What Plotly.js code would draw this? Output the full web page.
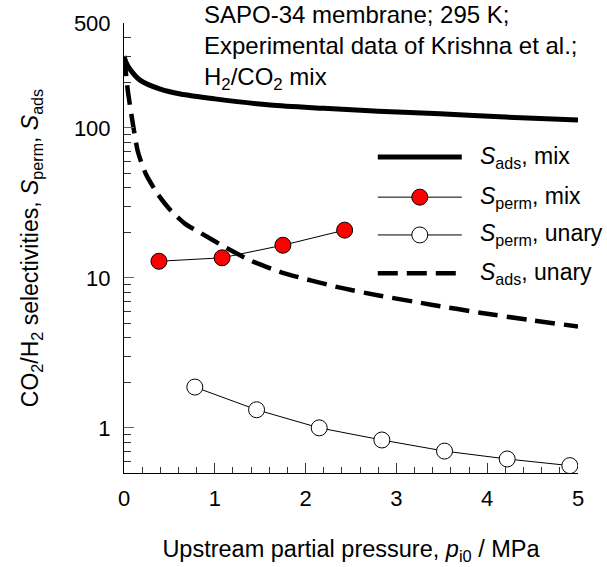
<!DOCTYPE html>
<html>
<head>
<meta charset="utf-8">
<script src="https://cdn.plot.ly/plotly-3.0.1.min.js"></script>
<style>
html,body{margin:0;padding:0;background:#fff;}
#chart{width:607px;height:567px;}
</style>
</head>
<body>
<div id="chart"></div>
<script>
// ---- data ----
const sAdsMixX   = [0, 0.02, 0.066, 0.176, 0.4, 0.62, 1.0, 1.61, 2.2, 2.8, 3.48, 4.2, 5.0];
const sAdsMixY   = [300, 275, 246, 208, 181, 168, 156, 142, 135, 129, 124, 118, 113];

const sAdsUnaryX = [0, 0.02, 0.044, 0.099, 0.154, 0.242, 0.374, 0.518, 0.67, 0.84, 1.13, 1.4, 1.75, 2.38, 2.82, 3.4, 3.92, 4.5, 5.0];
const sAdsUnaryY = [300, 235, 173, 105, 69, 49, 36, 28, 23, 20, 15.8, 13, 10.8, 8.6, 7.6, 6.6, 5.86, 5.2, 4.74];

const sPermMixX  = [0.385, 1.08, 1.75, 2.43];
const sPermMixY  = [12.9, 13.6, 16.5, 20.8];

const sPermUnaryX = [0.78, 1.46, 2.15, 2.84, 3.53, 4.22, 4.91];
const sPermUnaryY = [1.87, 1.32, 1.0, 0.83, 0.70, 0.62, 0.56];

const yTickVals  = [1, 10, 100, 500];
const yTickText  = ['1', '10', '100', '500'];
const yMinorVals = [0.6, 0.7, 0.8, 0.9, 2, 3, 4, 5, 6, 7, 8, 9, 20, 30, 40, 50, 60, 70, 80, 90, 200, 300, 400];

const legendNames = [
  '<i>S</i><sub>ads</sub>, mix',
  '<i>S</i><sub>perm</sub>, mix',
  '<i>S</i><sub>perm</sub>, unary',
  '<i>S</i><sub>ads</sub>, unary'
];

const FONT = 'Liberation Sans, Arial, Helvetica, sans-serif';
const TXT = 23;   // titles, legend
const NOTE = 24;  // note at top
const TICK = 22;  // tick labels
const DASH = '20px,9px';

const traces = [
  {x: sAdsMixX, y: sAdsMixY, mode: 'lines', line: {color: '#000', width: 5, shape: 'spline', smoothing: 0.8}, showlegend: false},
  {x: sAdsUnaryX, y: sAdsUnaryY, mode: 'lines', line: {color: '#000', width: 4.5, dash: DASH, shape: 'spline', smoothing: 0.6}, showlegend: false},
  {x: sPermMixX, y: sPermMixY, mode: 'lines+markers', line: {color: '#000', width: 1},
   marker: {size: 16, color: '#ff0000', line: {color: '#000', width: 1}}, showlegend: false},
  {x: sPermUnaryX, y: sPermUnaryY, mode: 'lines+markers', line: {color: '#000', width: 1},
   marker: {size: 16, color: '#ffffff', line: {color: '#000', width: 1}}, showlegend: false}
];

// custom legend (paper coordinates)
const legX0 = 0.559, legX1 = 0.744, legTextX = 0.780;
const legY = [0.702, 0.613, 0.529, 0.444];
const mW = 16/454, mH = 16/450, mC = (legX0 + legX1) / 2;
const shapes = [
  {type: 'line', xref: 'paper', yref: 'paper', x0: legX0, x1: legX1, y0: legY[0], y1: legY[0], line: {color: '#000', width: 5}},
  {type: 'line', xref: 'paper', yref: 'paper', x0: legX0, x1: legX1, y0: legY[1], y1: legY[1], line: {color: '#000', width: 1}},
  {type: 'circle', xref: 'paper', yref: 'paper', x0: mC - mW/2, x1: mC + mW/2, y0: legY[1] - mH/2, y1: legY[1] + mH/2, fillcolor: '#ff0000', line: {color: '#000', width: 1}},
  {type: 'line', xref: 'paper', yref: 'paper', x0: legX0, x1: legX1, y0: legY[2], y1: legY[2], line: {color: '#000', width: 1}},
  {type: 'circle', xref: 'paper', yref: 'paper', x0: mC - mW/2, x1: mC + mW/2, y0: legY[2] - mH/2, y1: legY[2] + mH/2, fillcolor: '#ffffff', line: {color: '#000', width: 1}},
  {type: 'line', xref: 'paper', yref: 'paper', x0: legX0, x1: legX1, y0: legY[3], y1: legY[3], line: {color: '#000', width: 4.5, dash: DASH}}
];

const annotations = legendNames.map((t, i) => ({
  xref: 'paper', yref: 'paper', x: legTextX, y: legY[i], xanchor: 'left', yanchor: 'middle',
  text: t, showarrow: false, font: {family: FONT, size: TXT, color: '#000'}
}));
annotations.push({
  xref: 'paper', yref: 'paper', x: 0.172, y: 1.054, xanchor: 'left', yanchor: 'top', align: 'left',
  text: 'SAPO-34 membrane; 295 K;<br>Experimental data of Krishna et al.;<br>H<sub>2</sub>/CO<sub>2</sub> mix',
  showarrow: false, font: {family: FONT, size: NOTE, color: '#000'}
});

const layout = {
  width: 607, height: 567,
  margin: {l: 124, r: 29, t: 23, b: 94},
  paper_bgcolor: '#fff', plot_bgcolor: '#fff',
  font: {family: FONT, size: TXT, color: '#000'},
  showlegend: false,
  xaxis: {
    range: [0, 5], tickmode: 'linear', tick0: 0, dtick: 1,
    ticks: 'inside', ticklen: 10, tickwidth: 1, tickcolor: '#333',
    minor: {dtick: 0.2, tick0: 0, ticks: 'inside', ticklen: 6, tickwidth: 1, tickcolor: '#333'},
    showline: true, linecolor: '#000', linewidth: 1, mirror: false,
    showgrid: false, zeroline: false,
    tickfont: {family: FONT, size: TICK}, ticklabelstandoff: 6,
    title: {text: 'Upstream partial pressure, <i>p</i><sub>i0</sub> / MPa', font: {family: FONT, size: 23.5}, standoff: 30}
  },
  yaxis: {
    type: 'log', range: [Math.log10(0.5), Math.log10(500)],
    tickmode: 'array', tickvals: yTickVals, ticktext: yTickText,
    ticks: 'inside', ticklen: 10, tickwidth: 1, tickcolor: '#666',
    minor: {tickmode: 'array', tickvals: yMinorVals, ticks: 'inside', ticklen: 7, tickwidth: 1, tickcolor: '#333'},
    showline: true, linecolor: '#000', linewidth: 1, mirror: false,
    showgrid: false, zeroline: false,
    tickfont: {family: FONT, size: TICK}, ticklabelstandoff: 8,
    title: {text: 'CO<sub>2</sub>/H<sub>2</sub> selectivities, <i>S</i><sub>perm</sub>, <i>S</i><sub>ads</sub>', font: {family: FONT, size: TXT}, standoff: 28}
  },
  shapes: shapes,
  annotations: annotations
};

Plotly.newPlot('chart', traces, layout, {staticPlot: true, displayModeBar: false});
</script>
</body>
</html>
